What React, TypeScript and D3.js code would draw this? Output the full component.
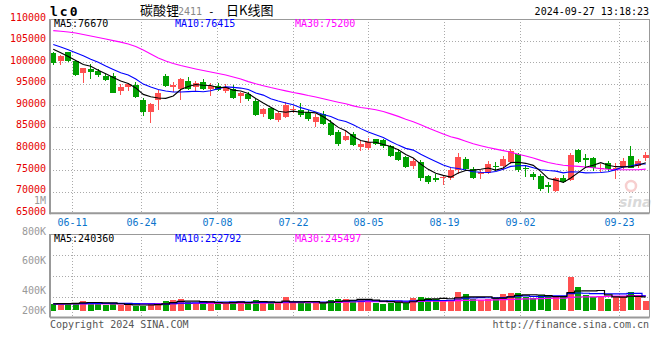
import React from 'react';
import * as d3 from 'd3';

const dates = [
  '06-05','06-06','06-07','06-11','06-12','06-13','06-14','06-17','06-18','06-19','06-20','06-21','06-24','06-25','06-26','06-27','06-28',
  '07-01','07-02','07-03','07-04','07-05','07-08','07-09','07-10','07-11','07-12','07-15','07-16','07-17','07-18','07-19','07-22','07-23','07-24','07-25','07-26','07-29','07-30','07-31',
  '08-01','08-02','08-05','08-06','08-07','08-08','08-09','08-12','08-13','08-14','08-15','08-16','08-19','08-20','08-21','08-22','08-23','08-26','08-27','08-28','08-29','08-30',
  '09-02','09-03','09-04','09-05','09-06','09-09','09-10','09-11','09-12','09-13','09-18','09-19','09-20','09-23','09-24','09-25','09-26','09-27'
];

const opens = [
  102200,100270,102300,100300,97450,98400,98000,96900,96850,93400,
  94100,94700,91250,88500,91050,96850,94200,93600,95650,94100,
  95400,93600,94450,93400,93900,92000,92600,91000,87900,89300,
  86450,87400,88950,88900,88500,86250,88100,86000,83900,82000,
  83350,80300,80050,82200,81950,80600,79250,78100,76050,76950,
  73600,73100,73250,73100,75200,77550,75200,74100,74400,75950,
  75900,76800,78650,75400,74050,73650,71550,70150,73250,72700,
  79650,77700,77700,75200,76700,75200,75600,78350,75900,77750
];
const highs = [
  102450,101660,102430,100500,98650,99500,98400,97200,97500,94900,
  95250,95450,91600,90600,93550,97150,95500,96250,96600,95700,
  96200,95200,95100,94950,94700,93150,93150,91500,89450,89500,
  88750,90700,89800,90600,88900,87900,88700,86600,84300,83950,
  83900,81750,82500,82250,82100,80750,79800,78300,77750,77450,
  73950,74200,73900,75400,79050,78150,75700,75050,77000,76800,
  78300,80000,78900,75950,74500,74000,72300,73500,73900,79000,
  79900,78700,78000,76350,77100,76700,77700,80600,77600,79250
];
const lows = [
  99400,99350,100100,96900,95100,96100,96600,95750,92800,92400,
  93400,91800,87600,86000,88950,94300,93100,91300,93500,93200,
  93500,92250,93300,92800,91450,90450,91100,87600,87250,86600,
  86200,87100,88150,87400,86400,85050,85500,83000,80550,81750,
  80600,79500,79650,80800,80050,78100,77100,75550,75250,72500,
  71700,72250,71550,72800,74200,74950,72850,72900,74000,74800,
  75100,76500,74650,73480,72700,70150,69600,69900,71950,72400,
  76600,75800,74900,74500,74850,73000,75200,75550,75550,77100
];
const closes = [
  99880,101500,100200,97100,98600,97800,97050,95950,92950,94350,
  94900,92000,88500,90300,92750,94550,94700,96000,93800,95100,
  93750,94400,93450,94300,91700,92800,91400,87800,89050,86850,
  88150,90150,89150,87650,86900,87400,85700,83300,81200,82950,
  80800,81050,81400,81050,80450,78350,77350,75800,77100,73350,
  72300,72750,73450,75050,78100,75200,73200,74500,76450,75700,
  77600,79400,75050,75100,73350,70650,71200,73150,72350,78500,
  76950,77350,75400,75450,75400,75400,77100,75600,77150,78400
];
const volumes = [
  199300,203400,203400,203400,218700,211000,203400,193400,203400,193400,
  193400,189300,187600,203400,203400,216900,222800,228600,209300,203400,
  203400,216900,203400,203400,209300,216900,203400,222800,211000,203400,
  203400,238600,203400,211000,211000,203400,203400,222800,228600,228600,
  222800,228600,222800,206900,199300,206900,216900,203400,236300,242100,
  236300,226900,222800,222800,271500,258000,228600,222800,228600,232700,
  258000,265600,265600,242100,236300,250300,246200,238600,238600,357700,
  297300,252100,238600,246200,228600,240000,246200,268000,238600,215000
];

// moving-average values before enough history exists
const ma5Head = [103000, 102200, 101300, 100400];
const ma10Head = [104100, 103500, 102900, 102200, 101500, 100700, 100000, 99100, 98300];
const ma30Head = [
  107300,107150,107000,106750,106400,106050,105700,105350,105000,104650,
  104200,103630,102820,101900,100970,100270,99700,99230,98810,98420,
  98070,97720,97380,97030,96570,96100,95500,95000,94550
];
const volMa5Head = [200000, 201000, 202000, 203000];
const volMa10Head = [200000, 200500, 201000, 201500, 202000, 202500, 203000, 203000, 203500];
const volMa30Head = [
  199000,199000,199500,199500,200000,200000,200000,200500,200500,200500,
  201000,201000,201000,201500,201500,202000,202000,202500,202500,203000,
  203000,203000,203500,203500,204000,204000,204500,204500,205000
];

const priceTicks = [110000, 105000, 100000, 95000, 90000, 85000, 80000, 75000, 70000, 65000];
const xTickDates = ['06-11', '06-24', '07-08', '07-22', '08-05', '08-19', '09-02', '09-23'];
const volTickValues = [800000, 600000, 400000, 200000];
const volTickLabels = ['800K', '600K', '400K', '200K'];

const legendMA5 = 76670;
const legendMA10 = 76415;
const legendMA30 = 75200;
const legendVolMA5 = 240360;
const legendVolMA10 = 252792;
const legendVolMA30 = 245497;

const RED = '#ff5050';
const GREEN = '#00a000';
const MONO = '"DejaVu Sans Mono", monospace';
const CJK = '"Noto Sans CJK SC", sans-serif';

function movingAvg(values: number[], n: number, head: number[]) {
  return values.map((_, i) => (i < n - 1 ? head[i] : d3.mean(values.slice(i - n + 1, i + 1)) as number));
}

export default function App() {
  const W = 660, H = 360;
  const left = 50, right = 649.5;
  const mTop = 19, mBottom = 213.3;
  const vTop = 234, vBottom = 317.5, vBase = 310.7;

  const n = closes.length;
  const idx = d3.range(n);
  const xBand = d3.scaleBand<number>().domain(idx).range([49.5, 649.5]).paddingInner(0.24).paddingOuter(0.12);
  const cx = (i: number) => (xBand(i) as number) + xBand.bandwidth() / 2;
  const gridX = d3.scaleLinear().domain([0, n - 1]).range([49.5, 649.5]);
  const y = d3.scaleLinear().domain([65000, 110000]).range([mBottom, mTop]);
  const vy = d3.scaleLinear().domain([160000, 610000]).range([vBase, vTop]);
  const volLabelY = d3.scaleLinear().domain([200000, 800000]).range([320.7, 231]);

  const ma5 = movingAvg(closes, 5, ma5Head);
  const ma10 = movingAvg(closes, 10, ma10Head);
  const ma30 = movingAvg(closes, 30, ma30Head);
  const vma5 = movingAvg(volumes, 5, volMa5Head);
  const vma10 = movingAvg(volumes, 10, volMa10Head);
  const vma30 = movingAvg(volumes, 30, volMa30Head);

  const line = d3.line<number>().x((_, i) => cx(i)).y((d) => y(d));
  const vline = d3.line<number>().x((_, i) => cx(i)).y((d) => vy(d)).curve(d3.curveStep);

  const bw = Math.round(xBand.bandwidth());
  const up = (i: number) => closes[i] >= opens[i];

  const gridStroke = '#aaa';
  const dash = '1,2';

  return (
    <svg width={W} height={H} style={{ position: 'absolute', left: 0, top: 0, background: '#fff' }}>
      <rect x={0} y={0} width={W} height={H} fill="#fff" />
      {/* header */}
      <text x={50} y={16} fontFamily={MONO} fontWeight="bold" fontSize={13} letterSpacing={2}>lc0</text>
      <text x={140} y={15} fontFamily={CJK} fontSize={13}>碳酸锂</text>
      <text x={178} y={15} fontFamily={MONO} fontSize={10} fill="#888">2411</text>
      <text x={208} y={15} fontFamily={MONO} fontSize={11}>-</text>
      <text x={226} y={15} fontFamily={CJK} fontSize={13}>日K线图</text>
      <text x={649} y={15} textAnchor="end" fontFamily={MONO} fontSize={10}>2024-09-27 13:18:23</text>

      {/* main grid */}
      {priceTicks.slice(1, -1).map((v) => (
        <line key={'hg' + v} x1={left} x2={right} y1={Math.round(y(v)) + 0.5} y2={Math.round(y(v)) + 0.5}
          stroke={gridStroke} strokeDasharray={dash} />
      ))}
      {xTickDates.map((d) => {
        const gx = Math.round(gridX(dates.indexOf(d))) + 0.5;
        return (
          <g key={'vg' + d}>
            <line x1={gx} x2={gx} y1={mTop} y2={mBottom} stroke={gridStroke} strokeDasharray={dash} />
            <line x1={gx} x2={gx} y1={vTop} y2={vBottom} stroke={gridStroke} strokeDasharray={dash} />
            <text x={gx} y={226} textAnchor="middle" fontFamily={MONO} fontSize={10} fill="#0a74cc">{d}</text>
          </g>
        );
      })}

      {/* sina watermark */}
      <g opacity={0.55}>
        <circle cx={631} cy={186} r={5} fill="none" stroke="#f2a8a8" strokeWidth={2.5} />
        <text x={619} y={207} fontFamily='"DejaVu Sans", sans-serif' fontStyle="italic" fontWeight="bold" fontSize={14} fill="#bbb">sina</text>
      </g>

      {/* candles */}
      {idx.map((i) => {
        const c = up(i) ? RED : GREEN;
        const wx = Math.floor(cx(i)) + 0.5;
        const yo = y(opens[i]), yc = y(closes[i]);
        const top = Math.round(Math.min(yo, yc));
        const h = Math.max(1, Math.round(Math.abs(yo - yc)));
        return (
          <g key={'c' + i} shapeRendering="crispEdges">
            <line x1={wx} x2={wx} y1={y(highs[i])} y2={y(lows[i])} stroke={c} />
            <rect x={Math.round(xBand(i) as number)} y={top} width={bw} height={h} fill={c} />
          </g>
        );
      })}

      {/* moving averages */}
      <path d={line(ma30) as string} fill="none" stroke="#ff00ff" strokeWidth={1.1} />
      <path d={line(ma10) as string} fill="none" stroke="#0000ff" strokeWidth={1.1} />
      <path d={line(ma5) as string} fill="none" stroke="#000" strokeWidth={1.1} />

      {/* main border */}
      <line x1={left} x2={right} y1={mTop + 0.5} y2={mTop + 0.5} stroke="#999" />
      <line x1={right} x2={right} y1={mTop} y2={mBottom} stroke="#999" />
      <line x1={left} x2={left} y1={mTop} y2={mBottom + 1} stroke="#999" strokeWidth={2} />
      <line x1={left} x2={right} y1={mBottom} y2={mBottom} stroke="#999" strokeWidth={2} />

      {/* price labels */}
      {priceTicks.map((v) => (
        <text key={'pl' + v} x={46} y={y(v) - 2} dy="0.35em" textAnchor="end" fontFamily={MONO} fontSize={10} fill="#e60000">{v}</text>
      ))}
      <text x={46} y={200} dy="0.35em" textAnchor="end" fontFamily={MONO} fontSize={10} fill="#999">1M</text>

      {/* main legend */}
      <text x={54} y={27} fontFamily={MONO} fontSize={10} fill="#000">MA5:{legendMA5}</text>
      <text x={175} y={27} fontFamily={MONO} fontSize={10} fill="#0000ff">MA10:{legendMA10}</text>
      <text x={295} y={27} fontFamily={MONO} fontSize={10} fill="#ff00ff">MA30:{legendMA30}</text>

      {/* volume grid */}
      {[1, 2, 3].map((k) => {
        const gy = Math.round(vTop + ((vBottom - vTop) * k) / 4) + 0.5;
        return <line key={'vh' + k} x1={left} x2={right} y1={gy} y2={gy} stroke={gridStroke} strokeDasharray={dash} />;
      })}

      {/* volume bars */}
      {idx.map((i) => (
        <rect key={'v' + i} shapeRendering="crispEdges" x={Math.round(xBand(i) as number)} y={Math.round(vy(volumes[i]))}
          width={bw} height={Math.max(1, Math.round(vBase - vy(volumes[i])))} fill={up(i) ? RED : GREEN} />
      ))}
      <path d={vline(vma30) as string} fill="none" stroke="#ff00ff" strokeWidth={1.2} />
      <path d={vline(vma10) as string} fill="none" stroke="#0000ff" strokeWidth={1.2} />
      <path d={vline(vma5) as string} fill="none" stroke="#000" strokeWidth={1.2} />

      {/* volume border */}
      <line x1={left} x2={right} y1={vTop + 0.5} y2={vTop + 0.5} stroke="#999" />
      <line x1={right} x2={right} y1={vTop} y2={vBottom} stroke="#999" />
      <line x1={left} x2={left} y1={vTop} y2={vBottom} stroke="#999" strokeWidth={2} />
      <line x1={left} x2={right} y1={vBottom} y2={vBottom} stroke="#999" strokeWidth={2} />

      {volTickValues.map((v, k) => (
        <text key={'vl' + v} x={46} y={Math.min(volLabelY(v), 310)} dy="0.35em" textAnchor="end" fontFamily={MONO} fontSize={10} fill="#999">{volTickLabels[k]}</text>
      ))}

      <text x={54} y={242} fontFamily={MONO} fontSize={10} fill="#000">MA5:{legendVolMA5}</text>
      <text x={175} y={242} fontFamily={MONO} fontSize={10} fill="#0000ff">MA10:{legendVolMA10}</text>
      <text x={295} y={242} fontFamily={MONO} fontSize={10} fill="#ff00ff">MA30:{legendVolMA30}</text>

      <text x={50} y={328} fontFamily={MONO} fontSize={10} fill="#555">Copyright 2024 SINA.COM</text>
      <text x={649} y={328} textAnchor="end" fontFamily={MONO} fontSize={10} fill="#555">http://finance.sina.com.cn</text>
    </svg>
  );
}
